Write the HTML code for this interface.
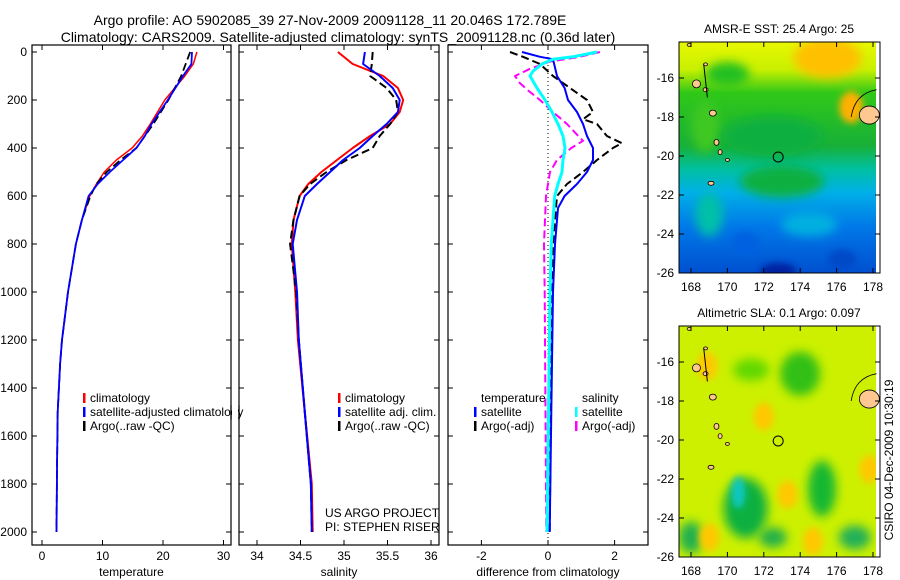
<!DOCTYPE html>
<html><head><meta charset="utf-8"><style>
body{margin:0;background:#fff}
svg{display:block;font-family:"Liberation Sans",sans-serif}
</style></head><body>
<svg id="c" width="900" height="580" xmlns="http://www.w3.org/2000/svg">
<defs>
<filter id="b1" x="-50%" y="-50%" width="200%" height="200%"><feGaussianBlur stdDeviation="5"/></filter>
<filter id="b2" x="-50%" y="-50%" width="200%" height="200%"><feGaussianBlur stdDeviation="3.5"/></filter>
<clipPath id="cm1"><rect x="679" y="42" width="197" height="231"/></clipPath>
<clipPath id="cm2"><rect x="679" y="326" width="197" height="231"/></clipPath>
<linearGradient id="sstg" x1="0" y1="0" x2="0" y2="1">
<stop offset="0" stop-color="#e8f800"/><stop offset="0.12" stop-color="#c8f000"/><stop offset="0.22" stop-color="#30c818"/>
<stop offset="0.45" stop-color="#18b038"/><stop offset="0.55" stop-color="#00c0a0"/><stop offset="0.65" stop-color="#00b0e8"/>
<stop offset="0.8" stop-color="#0078e8"/><stop offset="1" stop-color="#0050d0"/></linearGradient>
</defs>
<text x="330" y="25" font-size="14" text-anchor="middle">Argo profile: AO 5902085_39 27-Nov-2009 20091128_11 20.046S 172.789E</text>
<text x="338" y="42" font-size="14" text-anchor="middle">Climatology: CARS2009. Satellite-adjusted climatology: synTS_20091128.nc (0.36d later)</text>
<g id="plots"></g>
<g id="maps"></g>
</svg>
<script>
// ---------- profile data ----------
const depthT=[0,50,100,200,300,350,400,450,500,550,600,700,800,1000,1100,1200,1300,1500,1700,2000];
const tempClim=[25.6,25.0,23.6,20.3,17.9,16.6,14.9,12.3,10.3,9.0,7.9,6.6,5.6,4.3,3.8,3.3,3.0,2.6,2.5,2.4];
const tempSat=[24.8,24.7,23.3,20.8,18.1,17.0,15.6,13.4,11.2,9.2,7.7,6.6,5.6,4.3,3.8,3.3,3.0,2.6,2.5,2.4];
const depthA=[0,100,200,300,400,450,500,550,600,700,800,1000,1100,1200,1300,1500,1700,2000];
const tempArgo=[24.5,23.0,20.9,18.4,15.6,13.0,10.7,9.0,8.0,6.6,5.6,4.3,3.8,3.3,3.0,2.6,2.5,2.4];
const depthS=[0,50,100,150,200,250,300,350,400,450,500,550,600,700,800,1000,1200,1500,1800,2000];
const salClim=[34.93,35.1,35.45,35.62,35.68,35.64,35.53,35.3,35.1,34.92,34.74,34.59,34.49,34.42,34.4,34.44,34.47,34.55,34.63,34.64];
const salSat=[35.24,35.22,35.41,35.56,35.64,35.62,35.49,35.33,35.18,34.99,34.84,34.69,34.55,34.46,34.41,34.46,34.48,34.55,34.62,34.63];
const salArgo=[35.33,35.32,35.3,35.49,35.6,35.62,35.53,35.41,35.33,35.03,34.8,34.61,34.49,34.42,34.38,34.45,34.48,34.55,34.62,34.63];
const depthD1=[0,20,30,100,150,200,250,300,350,400,450,500,550,600,650,700,800,1000,1500,2000];
const diffTSat=[-0.78,-0.24,0.15,0.27,0.5,0.6,0.87,1.05,1.17,1.35,1.35,1.17,0.87,0.5,0.3,0.27,0.21,0.15,0.1,0.05];
const depthD2=[0,20,30,50,80,100,150,200,250,300,350,400,450,500,550,600,700,800,1000,2000];
const diffSSat=[1.47,0.75,0.15,-0.18,-0.45,-0.54,-0.33,-0.09,0.12,0.3,0.45,0.51,0.45,0.42,0.3,0.2,0.15,0.1,0.06,-0.03];
const depthD3=[0,20,50,100,150,200,250,280,300,350,380,400,450,500,550,600,700,800,1000,2000];
const diffTArgo=[-1.14,-0.75,-0.24,0.15,0.66,1.17,1.35,1.05,1.47,1.77,2.22,1.95,1.47,1.05,0.57,0.27,0.21,0.15,0.12,0.05];
const depthD4=[0,20,40,70,90,100,130,160,200,250,300,340,370,400,450,500,600,800,1000,2000];
const diffSArgo=[1.56,0.96,0.06,-0.54,-0.84,-0.99,-0.84,-0.6,-0.24,0.15,0.57,0.84,1.05,0.7,0.27,0.06,-0.06,-0.12,-0.1,-0.05];
const depthTicks=[0,200,400,600,800,1000,1200,1400,1600,1800,2000];
const tTicks=[0,10,20,30];
const sTicks=[34,34.5,35,35.5,36];
const dTicks=[-2,0,2];
const lonTicks=[168,170,172,174,176,178];
const latTicks=[-16,-18,-20,-22,-24,-26];

const NS='http://www.w3.org/2000/svg';
const G=document.getElementById('plots');
const M=document.getElementById('maps');
function el(t,a,p){const e=document.createElementNS(NS,t);for(const k in a)e.setAttribute(k,a[k]);(p||G).appendChild(e);return e;}
const yD=d=>52+0.24*d;
const xT=v=>42+6.05*v;
const xS=v=>257+87*(v-34);
const xDf=v=>548+33.3*v;
const panels=[{x0:32,x1:231,fx:xT,ticks:tTicks,lab:'temperature',name:'temperature'},
{x0:239,x1:439,fx:xS,ticks:sTicks,lab:'salinity',name:'salinity'},
{x0:448,x1:648,fx:xDf,ticks:dTicks,lab:'difference from climatology',name:'difference'}];
const Y0=45,Y1=545;
panels.forEach((p,i)=>{
  const r=el('rect',{x:p.x0,y:Y0,width:p.x1-p.x0,height:Y1-Y0,fill:'none',stroke:'#000','stroke-width':1.2});
  
  
  depthTicks.forEach(d=>{
    el('line',{x1:p.x0,x2:p.x0+5,y1:yD(d),y2:yD(d),stroke:'#000'});
    el('line',{x1:p.x1,x2:p.x1-5,y1:yD(d),y2:yD(d),stroke:'#000'});
    if(i==0){const t=el('text',{x:27,y:yD(d)+4,'font-size':12,'text-anchor':'end'});t.textContent=d;
      
      }
  });
  p.ticks.forEach(v=>{
    const x=p.fx(v);
    el('line',{x1:x,x2:x,y1:Y1,y2:Y1-5,stroke:'#000'});
    el('line',{x1:x,x2:x,y1:Y0,y2:Y0+5,stroke:'#000'});
    const t=el('text',{x:x,y:560,'font-size':12,'text-anchor':'middle'});t.textContent=v;
    
    
  });
  const t=el('text',{x:(p.x0+p.x1)/2,y:576,'font-size':12,'text-anchor':'middle'});t.textContent=p.lab;
  
  
});
function line(ds,vs,fx,col,w,dash,name){
  const pts=ds.map((d,i)=>fx(vs[i]).toFixed(1)+','+yD(d).toFixed(1)).join(' ');
  const a={points:pts,fill:'none',stroke:col,'stroke-width':w,'stroke-linejoin':'round'};
  if(dash)a['stroke-dasharray']=dash;
  const e=el('polyline',a);
  
  
}
el('line',{x1:548,x2:548,y1:Y0,y2:Y1,stroke:'#000','stroke-dasharray':'1,3'});
line(depthT,tempClim,xT,'#f00',1.5,null,'temperature-climatology-line');
line(depthA,tempArgo,xT,'#000',1.8,'8,4','temperature-argo-line');
line(depthT,tempSat,xT,'#00f',1.8,null,'temperature-satellite-line');
line(depthS,salClim,xS,'#f00',2,null,'salinity-climatology-line');
line(depthS,salArgo,xS,'#000',2,'8,4','salinity-argo-line');
line(depthS,salSat,xS,'#00f',2,null,'salinity-satellite-line');
line(depthD3,diffTArgo,xDf,'#000',2,'8,4','diff-temp-argo-line');
line(depthD4,diffSArgo,xDf,'#f0f',2,'8,4','diff-sal-argo-line');
line(depthD1,diffTSat,xDf,'#00f',2,null,'diff-temp-satellite-line');
line(depthD2,diffSSat,xDf,'#0ff',3,null,'diff-sal-satellite-line');
function leg(x,y,col,txt,name){
  if(col)el('rect',{x:x,y:y-9,width:2.5,height:10,fill:col});
  const t=el('text',{x:x+7,y:y,'font-size':12});t.textContent=txt;
  
  
}
leg(83,402,'#f00','climatology','legend-climatology');
leg(83,416,'#00f','satellite-adjusted climatology','legend-satellite');
leg(83,430,'#000','Argo(..raw -QC)','legend-argo');
leg(338,402,'#f00','climatology','legend2-climatology');
leg(338,416,'#00f','satellite adj. clim.','legend2-satellite');
leg(338,430,'#000','Argo(..raw -QC)','legend2-argo');
leg(474,402,null,'temperature','legend3-temperature-head');
leg(474,416,'#00f','satellite','legend3-temp-satellite');
leg(474,430,'#000','Argo(-adj)','legend3-temp-argo');
leg(575,402,null,'salinity','legend3-salinity-head');
leg(575,416,'#0ff','satellite','legend3-sal-satellite');
leg(575,430,'#f0f','Argo(-adj)','legend3-sal-argo');
el('rect',{x:232,y:405,width:6,height:14,fill:'#fff'});
el('line',{x1:231,x2:231,y1:405,y2:420,stroke:'#000','stroke-width':1.2});
el('line',{x1:239,x2:239,y1:405,y2:420,stroke:'#000','stroke-width':1.2});
const t1=el('text',{x:325,y:517,'font-size':12});t1.textContent='US ARGO PROJECT';

const t2=el('text',{x:325,y:531,'font-size':12});t2.textContent='PI: STEPHEN RISER';


// ---------- maps ----------
const xL=l=>691+18.2*(l-168);
function mapFrame(top,name){
  const yL=la=>top+36+19.5*(-16-la);
  const g=el('g',{'clip-path':'url(#c'+name+')'},M);
  
  
  return {g,yL};
}
// SST
{const top=42;const {g,yL}=mapFrame(top,'m1');
 el('rect',{x:679,y:42,width:197,height:231,fill:'url(#sstg)'},g);
 el('ellipse',{cx:xL(175.5),cy:58,rx:34,ry:20,fill:'#ffc000',filter:'url(#b1)'},g);
 el('ellipse',{cx:xL(176.8),cy:yL(-17.5),rx:12,ry:16,fill:'#ffb000',filter:'url(#b2)'},g);
 el('ellipse',{cx:xL(170),cy:yL(-15.8),rx:22,ry:12,fill:'#20c020',filter:'url(#b1)'},g);
 el('ellipse',{cx:xL(168.8),cy:yL(-18.5),rx:14,ry:26,fill:'#40c820',filter:'url(#b1)'},g);
 el('ellipse',{cx:xL(173),cy:yL(-21.3),rx:42,ry:16,fill:'#10b040',filter:'url(#b1)'},g);
 el('ellipse',{cx:xL(172.5),cy:yL(-19),rx:50,ry:20,fill:'#10b040',filter:'url(#b1)'},g);
 el('ellipse',{cx:xL(169),cy:yL(-23),rx:14,ry:22,fill:'#00c0a8',filter:'url(#b1)'},g);
 el('ellipse',{cx:xL(174.5),cy:yL(-23.5),rx:28,ry:12,fill:'#00b0e0',filter:'url(#b1)'},g);
 el('ellipse',{cx:xL(172.8),cy:yL(-25.9),rx:18,ry:8,fill:'#0020a0',filter:'url(#b2)'},g);
 el('ellipse',{cx:xL(176.3),cy:yL(-25.3),rx:14,ry:10,fill:'#0048c8',filter:'url(#b2)'},g);
 el('ellipse',{cx:xL(171),cy:yL(-24.5),rx:14,ry:12,fill:'#0060e0',filter:'url(#b2)'},g);
 el('rect',{x:876,y:42,width:4,height:231,fill:'#fff'},M);
}
// SLA
{const top=326;const {g,yL}=mapFrame(top,'m2');
 el('rect',{x:679,y:326,width:197,height:231,fill:'#ccf000'},g);
 el('ellipse',{cx:xL(174),cy:yL(-16.6),rx:20,ry:22,fill:'#30c018',filter:'url(#b1)'},g);
 el('ellipse',{cx:xL(171.3),cy:yL(-16.4),rx:18,ry:11,fill:'#60d800',filter:'url(#b1)'},g);
 el('ellipse',{cx:xL(171),cy:yL(-23.5),rx:22,ry:30,fill:'#10b040',filter:'url(#b1)'},g);
 el('ellipse',{cx:xL(170.6),cy:yL(-22.7),rx:7,ry:16,fill:'#10c8c0',filter:'url(#b2)'},g);
 el('ellipse',{cx:xL(175.2),cy:yL(-22.5),rx:14,ry:28,fill:'#18b830',filter:'url(#b1)'},g);
 el('ellipse',{cx:xL(168),cy:yL(-25),rx:12,ry:16,fill:'#20b050',filter:'url(#b1)'},g);
 el('ellipse',{cx:xL(177),cy:yL(-25),rx:16,ry:12,fill:'#20b058',filter:'url(#b1)'},g);
 el('ellipse',{cx:xL(172.5),cy:yL(-25),rx:14,ry:10,fill:'#20b048',filter:'url(#b1)'},g);
 [[172,-18.8],[173.3,-22.8],[169,-25],[174.7,-25.2],[177.8,-21.5],[168.9,-16.2]].forEach(p=>
   el('ellipse',{cx:xL(p[0]),cy:yL(p[1]),rx:10,ry:14,fill:'#ffc800',filter:'url(#b2)'},g));
 el('rect',{x:876,y:326,width:4,height:231,fill:'#fff'},M);
}
[[42,'AMSR-E SST: 25.4 Argo: 25','sst'],[326,'Altimetric SLA: 0.1 Argo: 0.097','sla']].forEach(([top,title,nm])=>{
  const yL=la=>top+36+19.5*(-16-la);
  const islands=[[177.8,-17.9,10,9],[168.3,-16.3,4,4],[169.2,-17.8,3.5,3],[169.4,-19.3,2.5,3],[169.6,-19.8,2,2.5],[168.8,-16.6,2.5,2],[170.0,-20.2,2,1.5],[169.1,-21.4,3,2],[167.9,-14.3,2,1.5],[168.8,-15.3,2,1.5]];
  islands.forEach(s=>{const e=el('ellipse',{cx:xL(s[0]),cy:yL(s[1]),rx:s[2],ry:s[3],fill:'#ffc890',stroke:'#000','stroke-width':0.8},M);
    });
  el('path',{d:`M${xL(176.8)} ${yL(-18)} Q${xL(177)} ${yL(-16.8)} ${xL(178.2)} ${yL(-16.6)}`,fill:'none',stroke:'#000','stroke-width':0.8},M);
  el('line',{x1:xL(168.7),x2:xL(168.9),y1:yL(-15.3),y2:yL(-17),stroke:'#000','stroke-width':1},M);
  const c=el('circle',{cx:xL(172.79),cy:yL(-20.05),r:5,fill:'none',stroke:'#000','stroke-width':1},M);
  
  const f=el('rect',{x:679,y:top,width:201,height:231,fill:'none',stroke:'#000','stroke-width':1},M);
  
  const t=el('text',{x:779,y:top-9,'font-size':12,'text-anchor':'middle'},M);t.textContent=title;
  
  lonTicks.forEach(l=>{el('line',{x1:xL(l),x2:xL(l),y1:top+231,y2:top+226,stroke:'#000'},M);
    el('line',{x1:xL(l),x2:xL(l),y1:top,y2:top+5,stroke:'#000'},M);
    const tt=el('text',{x:xL(l),y:top+249,'font-size':12,'text-anchor':'middle'},M);tt.textContent=l;
    });
  latTicks.forEach(la=>{el('line',{x1:679,x2:684,y1:yL(la),y2:yL(la),stroke:'#000'},M);
    el('line',{x1:880,x2:875,y1:yL(la),y2:yL(la),stroke:'#000'},M);
    const tt=el('text',{x:674,y:yL(la)+4,'font-size':12,'text-anchor':'end'},M);tt.textContent=la;
    });
});
const st=el('text',{x:0,y:0,'font-size':12,'text-anchor':'middle',transform:'translate(893,460) rotate(-90)'},M);
st.textContent='CSIRO 04-Dec-2009 10:30:19';

</script>
</body></html>
